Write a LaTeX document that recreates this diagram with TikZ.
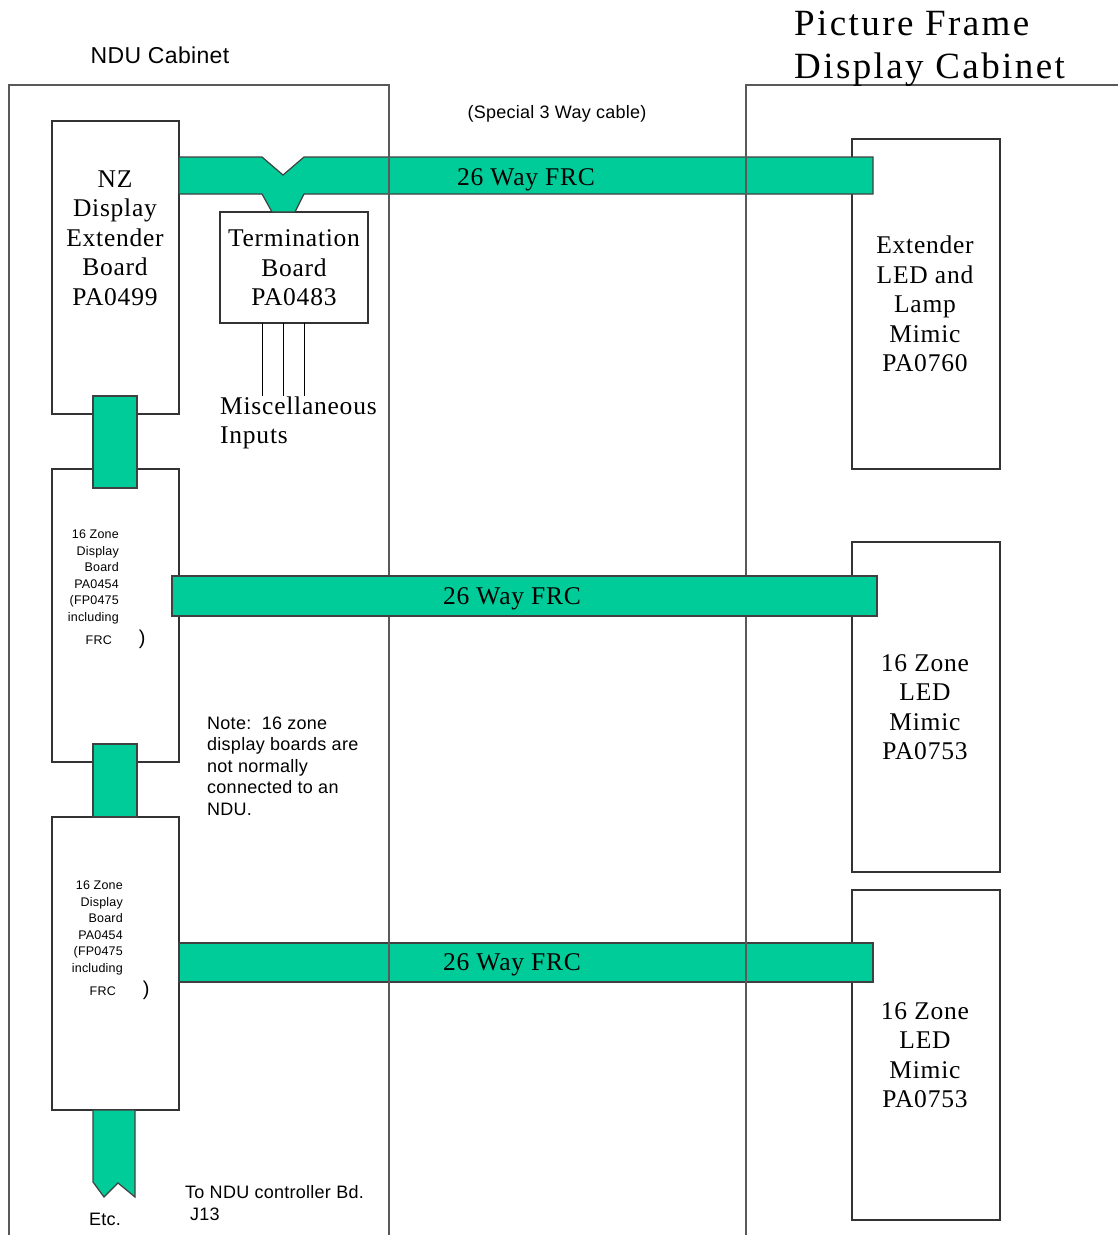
\documentclass[tikz,border=0pt]{standalone}
\usepackage{fontspec}
\setmainfont{Liberation Serif}[LetterSpace=3]
\setsansfont{Liberation Sans}[LetterSpace=1.5]
\newfontfamily\titlefont{Liberation Serif}[LetterSpace=6.5]
\usetikzlibrary{positioning}
\definecolor{frcgreen}{RGB}{0,204,153}

\begin{document}
\begin{tikzpicture}[x=1pt, y=-1pt, node distance=55pt,
    board/.style={draw=black!80, line width=1.2pt, anchor=north west, inner sep=0pt, outer sep=0pt},
    cable/.style={draw=black!75, fill=frcgreen, line width=1.2pt},
    cabinet/.style={draw=black!65, line width=1.4pt},
    serif/.style={font=\fontsize{25.5}{29.5}\selectfont, align=center, inner sep=0pt},
    title/.style={font=\titlefont\fontsize{37}{43}\selectfont, align=left, inner sep=0pt},
    label/.style={font=\sffamily\fontsize{18}{21.5}\selectfont, inner sep=0pt},
    small/.style={font=\sffamily\fontsize{12.5}{16.5}\selectfont, align=right, inner sep=0pt}]
    \useasboundingbox (0,0) rectangle (1118,1235);

    \node[board, minimum width=127pt, minimum height=293pt] (nz) at (52,121) {};
    \node[board, minimum width=127pt, minimum height=293pt, below=of nz] (zoneA) {};
    \node[board, minimum width=127pt, minimum height=293pt, below=of zoneA] (zoneB) {};
    \node[board, minimum width=148pt, minimum height=111pt] (term) at (220,212) {};
    \node[board, minimum width=148pt, minimum height=330pt] (ext) at (852,139) {};
    \node[board, minimum width=148pt, minimum height=330pt, below=73pt of ext] (ledA) {};
    \node[board, minimum width=148pt, minimum height=330pt, below=18pt of ledA] (ledB) {};

    \coordinate (miscA) at (262,396);
    \coordinate (miscB) at (283,396);
    \coordinate (miscC) at (304,396);
    \draw[line width=1pt] (term.south -| miscA) -- (miscA);
    \draw[line width=1pt] (term.south -| miscB) -- (miscB);
    \draw[line width=1pt] (term.south -| miscC) -- (miscC);

    \draw[cable] (nz.east |- 0,157) -- (262,157) -- (283,175) -- (304,157) -- (873,157)
        -- (873,194) -- (304,194) -- (295,212) -- (272,212) -- (262,194) -- (nz.east |- 0,194) -- cycle;
    \draw[cable] (zoneB.east |- 0,943) rectangle (873,982);

    \draw[cabinet] (9,1235) -- (9,85) -- (389,85) -- (389,1235);
    \draw[cabinet] (1118,85) -- (746,85) -- (746,1235);

    \draw[cable] (172,576) rectangle (877,616);

    \draw[cable] (93,396) rectangle (137,488);
    \draw[cable] (93,744) rectangle (137,817);
    \draw[cable] (zoneB.south -| 93,0) -- (93,1182) -- (104,1197) -- (118,1183) -- (135,1197) -- (zoneB.south -| 135,0) -- cycle;

    \node[label, font=\sffamily\fontsize{23}{26}\selectfont] (ndu) at (160,55) {NDU Cabinet};
    \node[title, anchor=west] (pfd) at (794,49) {Picture Frame\\Display Cabinet};
    \node[label] (special) at (557,114) {(Special 3 Way cable)};

    \node[serif] (nztext) at (115,238) {NZ\\Display\\Extender\\Board\\PA0499};
    \node[serif] (termtext) at (294,268) {Termination\\Board\\PA0483};
    \node[serif, align=left, anchor=west] (misc) at (220,423) {Miscellaneous\\Inputs};
    \node[serif] (exttext) at (925,304) {Extender\\LED and\\Lamp\\Mimic\\PA0760};
    \node[serif] (ledAtext) at (925,707) {16 Zone\\LED\\Mimic\\PA0753};
    \node[serif] (ledBtext) at (925,1055) {16 Zone\\LED\\Mimic\\PA0753};

    \node[serif] (frcA) at (526,180) {26 Way FRC};
    \node[serif] (frcB) at (512,599) {26 Way FRC};
    \node[serif] (frcC) at (512,965) {26 Way FRC};

    \node[small, anchor=east] (zoneAtext) at (119,589)
        {16 Zone\\Display\\Board\\PA0454\\(FP0475\\including\\[5pt]FRC\hspace{7pt}\rlap{\hspace{20pt}\fontsize{20}{20}\selectfont)}};
    \node[small, anchor=east] (zoneBtext) at (123,940)
        {16 Zone\\Display\\Board\\PA0454\\(FP0475\\including\\[5pt]FRC\hspace{7pt}\rlap{\hspace{20pt}\fontsize{20}{20}\selectfont)}};

    \node[label, align=left, anchor=west] (note) at (207,766)
        {Note:\ \ 16 zone\\display boards are\\not normally\\connected to an\\NDU.};
    \node[label] (etc) at (105,1219) {Etc.};
    \node[label, align=left, anchor=west] (ctrl) at (185,1203) {To NDU controller Bd.\\\hspace{5pt}J13};
\end{tikzpicture}
\end{document}
